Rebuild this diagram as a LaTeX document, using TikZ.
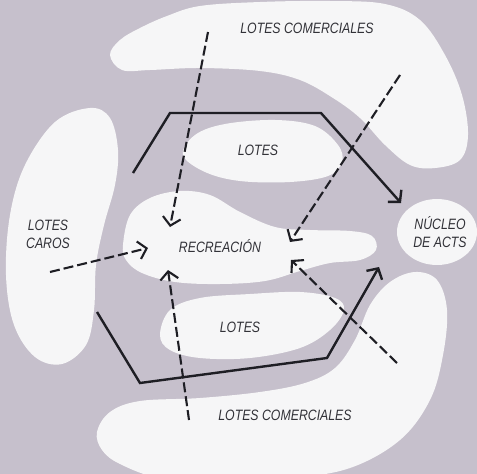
\documentclass[tikz,border=0pt]{standalone}
\usepackage{fontspec}
\setmainfont{Liberation Sans}[FakeStretch=0.82]
\usetikzlibrary{arrows.meta}
\definecolor{ground}{RGB}{198,192,204}
\definecolor{blobwhite}{RGB}{246,246,247}
\definecolor{ink}{RGB}{30,30,36}
\definecolor{textink}{RGB}{50,50,56}
\tikzset{
  blob/.style={fill=blobwhite},
  lbl/.style={text=textink, font=\fontsize{15}{16}\selectfont\itshape, inner sep=0pt, align=center},
  route/.style={draw=ink, line width=2.4pt, line join=miter, -{Straight Barb[length=8pt,width=18pt]}},
  access/.style={draw=ink, line width=2.1pt, dash pattern=on 10pt off 4pt, -{Straight Barb[length=8pt,width=18pt]}}
}
\begin{document}
\begin{tikzpicture}[x=1pt,y=-1pt]
\useasboundingbox (0,0) rectangle (477,474);
\fill[ground] (0,0) rectangle (477,474);
\begin{scope}
\clip (0,0) rectangle (477,474);
% top crescent
\fill[blob] plot[smooth cycle, tension=0.6] coordinates {(110,55) (120,40) (140,28) (167,16) (200,6) (260,2) (330,1) (385,4) (420,20) (445,55) (462,95) (468,135) (460,160) (435,168) (410,165) (385,145) (360,118) (333,98) (300,80) (260,71) (200,68) (150,70) (122,70)};
% top LOTES
\fill[blob] plot[smooth cycle, tension=0.6] coordinates {(183,155) (195,135) (225,124) (275,120) (315,126) (338,145) (342,162) (328,176) (290,182) (240,181) (205,172)};
% RECREACION
\fill[blob] plot[smooth cycle, tension=0.6] coordinates {(123,245) (130,215) (150,198) (180,191) (210,195) (240,212) (275,227) (310,230) (350,231) (372,236) (376,250) (360,260) (330,263) (300,271) (265,281) (220,284) (175,282) (142,273) (126,260)};
% LOTES CAROS
\fill[blob] plot[smooth cycle, tension=0.6] coordinates {(90,108) (110,118) (118,150) (115,185) (104,225) (96,265) (94,310) (86,345) (62,364) (35,357) (14,325) (6,275) (10,215) (25,165) (55,122)};
% NUCLEO
\fill[blob] (437,232) ellipse [x radius=40, y radius=33];
% bottom LOTES
\fill[blob] plot[smooth cycle, tension=0.6] coordinates {(160,335) (170,310) (200,298) (250,294) (300,292) (335,298) (344,310) (330,330) (300,348) (250,358) (200,358) (170,350)};
% bottom crescent
\fill[blob] plot[smooth cycle, tension=0.6] coordinates {(97,432) (110,412) (140,401) (200,398) (260,392) (305,383) (335,368) (355,340) (370,305) (390,282) (415,272) (437,280) (447,310) (443,355) (430,400) (400,440) (350,468) (290,478) (220,480) (160,478) (120,464) (102,450)};
\end{scope}

% labels
\node[lbl] (comTop) at (307,28) {LOTES COMERCIALES};
\node[lbl] (lotesTop) at (258,150) {LOTES};
\node[lbl] (caros) at (48,234) {LOTES\\[2pt]CAROS};
\node[lbl] (recre) at (220,246) {RECREACIÓN};
\node[lbl] (nucleo) at (440,232) {NÚCLEO\\[2pt]DE ACTS};
\node[lbl] (lotesBot) at (240,327) {LOTES};
\node[lbl] (comBot) at (285,415) {LOTES COMERCIALES};

% route coordinates
\coordinate (rA) at (133,173);
\coordinate (rB) at (170,113);
\coordinate (rC) at (321,113);
\coordinate (rD) at (401,203);
\coordinate (sA) at (97,312);
\coordinate (sB) at (140,383);
\coordinate (sC) at (327,358);
\coordinate (sD) at (379,267);
\draw[route] (rA) -- (rB) -- (rC) -- (rD);
\draw[route] (sA) -- (sB) -- (sC) -- (sD);

% access coordinates
\coordinate (d1s) at (208,32);  \coordinate (d1e) at (170,227);
\coordinate (d2s) at (400,75);  \coordinate (d2e) at (290,242);
\coordinate (d3s) at (50,272);  \coordinate (d3e) at (148,248);
\coordinate (d4s) at (189,420); \coordinate (d4e) at (168,270);
\coordinate (d5s) at (397,363); \coordinate (d5e) at (291,260);
\draw[access] (d1s) -- (d1e);
\draw[access] (d2s) -- (d2e);
\draw[access] (d3s) -- (d3e);
\draw[access] (d4s) -- (d4e);
\draw[access] (d5s) -- (d5e);
\end{tikzpicture}
\end{document}
